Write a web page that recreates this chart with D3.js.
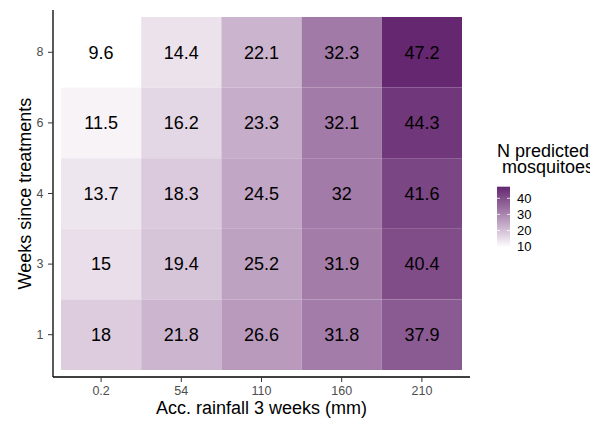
<!DOCTYPE html>
<html><head><meta charset="utf-8">
<script src="https://cdn.jsdelivr.net/npm/d3@7"></script>
<style>body{margin:0;background:#fff;}svg{display:block;font-family:"Liberation Sans",Arial,sans-serif;}</style>
</head><body>
<script>
const rainfall = ["0.2","54","110","160","210"];
const weeks = ["8","6","4","3","1"];
const values = {
  "8": [9.6,14.4,22.1,32.3,47.2],
  "6": [11.5,16.2,23.3,32.1,44.3],
  "4": [13.7,18.3,24.5,32,41.6],
  "3": [15,19.4,25.2,31.9,40.4],
  "1": [18,21.8,26.6,31.8,37.9]
};
const legendTicks = [10,20,30,40];

const W=590,H=421;
const svg=d3.select("body").append("svg").attr("width",W).attr("height",H);
const panel={l:53,r:470,t:10,b:377};
const x=d3.scaleBand().domain(rainfall).range([panel.l+8,panel.r-8]).padding(0);
const y=d3.scaleBand().domain(weeks).range([panel.t+7,panel.b-7]).padding(0);
const cells=[];
weeks.forEach(w=>rainfall.forEach((r,i)=>cells.push({w,r,v:values[w][i]})));
const ext=d3.extent(cells,d=>d.v);
const color=d3.scaleLinear().domain(ext).range(["#ffffff","#642770"]).interpolate(d3.interpolateLab);

svg.append("g").selectAll("rect").data(cells).join("rect")
  .attr("x",d=>x(d.r)).attr("y",d=>y(d.w))
  .attr("width",x.bandwidth()).attr("height",y.bandwidth())
  .attr("fill",d=>color(d.v));
svg.append("g").selectAll("text").data(cells).join("text")
  .attr("x",d=>x(d.r)+x.bandwidth()/2).attr("y",d=>y(d.w)+y.bandwidth()/2)
  .attr("dy","0.35em").attr("text-anchor","middle").attr("font-size",18).attr("fill","#000")
  .text(d=>d.v);

// axes
const xAx=svg.append("g").attr("transform",`translate(0,${panel.b})`)
  .call(d3.axisBottom(x).tickSize(5).tickPadding(4.5));
xAx.select(".domain").attr("d",`M${panel.l},0H${panel.r}`).attr("stroke","#000").attr("stroke-width",1.3);
const yAx=svg.append("g").attr("transform",`translate(${panel.l},0)`)
  .call(d3.axisLeft(y).tickSize(5).tickPadding(4.5));
yAx.select(".domain").attr("d",`M0,${panel.t}V${panel.b}`).attr("stroke","#000").attr("stroke-width",1.3);
[xAx,yAx].forEach(a=>{
  a.selectAll(".tick line").attr("stroke","#333");
  a.selectAll(".tick text").attr("fill","#4d4d4d").attr("font-size",12.5).attr("font-family","Liberation Sans, Arial, sans-serif");
});

svg.append("text").attr("x",(panel.l+panel.r)/2).attr("y",414).attr("text-anchor","middle")
  .attr("font-size",18).text("Acc. rainfall 3 weeks (mm)");
svg.append("text").attr("transform",`translate(31,${(panel.t+panel.b)/2}) rotate(-90)`)
  .attr("text-anchor","middle").attr("font-size",18).text("Weeks since treatments");

// legend
const lg=svg.append("g");
const lt=lg.append("text").attr("font-size",18).attr("xml:space","preserve").style("white-space","pre");
lt.append("tspan").attr("x",497).attr("y",157).text("N predicted");
lt.append("tspan").attr("x",497).attr("y",173).text(" mosquitoes");
const ly=d3.scaleLinear().domain(ext).range([247.3,186.7]);
const defs=svg.append("defs");
const grad=defs.append("linearGradient").attr("id","lgrad").attr("x1",0).attr("x2",0).attr("y1",1).attr("y2",0);
d3.range(0,1.0001,0.1).forEach(t=>grad.append("stop").attr("offset",t).attr("stop-color",color(ext[0]+t*(ext[1]-ext[0]))));
lg.append("rect").attr("x",497).attr("y",ly(ext[1])).attr("width",13).attr("height",ly(ext[0])-ly(ext[1])).attr("fill","url(#lgrad)");
legendTicks.forEach(v=>{
  lg.append("line").attr("x1",497).attr("x2",500).attr("y1",ly(v)).attr("y2",ly(v)).attr("stroke","#fff").attr("stroke-width",0.8);
  lg.append("line").attr("x1",507).attr("x2",510).attr("y1",ly(v)).attr("y2",ly(v)).attr("stroke","#fff").attr("stroke-width",0.8);
  lg.append("text").attr("x",517).attr("y",ly(v)).attr("dy","0.35em").attr("font-size",13).text(v);
});
</script>
</body></html>
